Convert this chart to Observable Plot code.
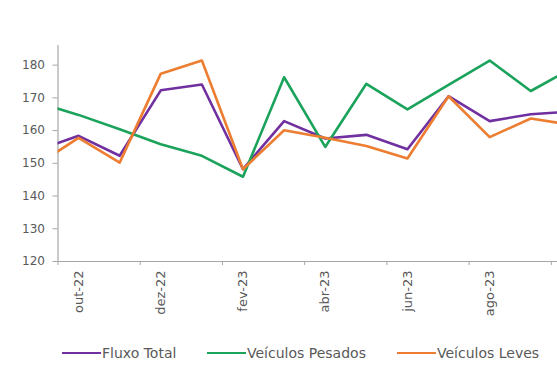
<!DOCTYPE html>
<html>
<head>
<meta charset="utf-8">
<script src="https://cdn.jsdelivr.net/npm/d3@7"></script>
<script src="https://cdn.jsdelivr.net/npm/@observablehq/plot@0.6"></script>
<style>
  body { margin: 0; background: #fff; font-family: "DejaVu Sans", sans-serif; }
  #chart { width: 557px; height: 371px; overflow: hidden; position: relative; background: #fff; }
  #chart svg { display: block; }
  .legend { position: relative; height: 41px; }
  .item { position: absolute; top: 14px; display: flex; align-items: center; font-size: 14px; color: #595959; white-space: nowrap; line-height: 18px; }
  .swatch { display: inline-block; width: 39px; height: 0; border-top: 2.6px solid; margin-right: 1px; }
</style>
</head>
<body>
<div id="chart"></div>
<script>
// Monthly series, set-22 through out-23 (first and last months sit just outside the visible window)
const months = ["set-22", "out-22", "nov-22", "dez-22", "jan-23", "fev-23", "mar-23",
                "abr-23", "mai-23", "jun-23", "jul-23", "ago-23", "set-23", "out-23"];
const tickMonths = ["out-22", "dez-22", "fev-23", "abr-23", "jun-23", "ago-23"];
const yTicks = [120, 130, 140, 150, 160, 170, 180];

const fluxoTotal      = [154.0, 158.4, 152.3, 172.3, 174.1, 148.2, 162.9, 157.6, 158.7, 154.3, 170.5, 162.9, 165.0, 165.8];
const veiculosPesados = [168.6, 164.8, 160.4, 155.8, 152.3, 145.9, 176.3, 155.0, 174.3, 166.5, 174.0, 181.4, 172.1, 179.0];
const veiculosLeves   = [149.6, 157.8, 150.2, 177.4, 181.4, 148.2, 160.1, 157.8, 155.3, 151.5, 170.5, 158.0, 163.7, 161.7];

const seriesNames  = ["Fluxo Total", "Veículos Pesados", "Veículos Leves"];
const seriesValues = [fluxoTotal, veiculosPesados, veiculosLeves];
const seriesColors = ["#7030a0", "#1ba35c", "#ed7d31"];

const rows = seriesNames.flatMap((name, s) =>
  seriesValues[s].map((value, i) => ({ series: name, i, month: months[i], value }))
);

const labelIdx = tickMonths.map(m => months.indexOf(m));
// tick marks fall between month pairs
const boundaries = d3.range(0.5, months.length - 1, 2);

const grey = "#a6a6a6";
const textGrey = "#595959";

const chart = Plot.plot({
  width: 557,
  height: 330,
  marginLeft: 57.5,
  marginRight: 0,
  marginTop: 45,
  marginBottom: 69,
  style: { fontFamily: "DejaVu Sans, sans-serif", color: textGrey, background: "#fff", overflow: "hidden" },
  x: { type: "linear", domain: [0.5, 12.65], axis: null },
  y: { domain: [120, 186], axis: null },
  color: { domain: seriesNames, range: seriesColors },
  marks: [
    Plot.ruleY([120], { stroke: grey, strokeWidth: 1.2 }),
    Plot.ruleX([0.5], { stroke: grey, strokeWidth: 1.2 }),
    Plot.axisY(yTicks, {
      anchor: "left", tickSize: 5, tickPadding: 8, fontSize: 12,
      stroke: grey, fill: textGrey, tickFormat: d => d, label: null
    }),
    Plot.axisX(boundaries, {
      anchor: "bottom", tickSize: 4, stroke: grey, tickFormat: null, text: null, label: null
    }),
    Plot.axisX(labelIdx, {
      anchor: "bottom", tickSize: 0, tickPadding: 9, tickRotate: -90, fontSize: 13,
      fill: textGrey, tickFormat: i => months[i], label: null
    }),
    ...seriesNames.map(name =>
      Plot.line(rows.filter(d => d.series === name), {
        x: "i", y: "value", stroke: "series",
        strokeWidth: 2.6, strokeLinejoin: "round", strokeLinecap: "butt", clip: true
      })
    )
  ]
});

const root = document.getElementById("chart");
root.appendChild(chart);

// Legend below the plot
const legend = document.createElement("div");
legend.className = "legend";
const legendX = [62, 207, 397];
seriesNames.forEach((name, s) => {
  const item = document.createElement("div");
  item.className = "item";
  item.style.left = legendX[s] + "px";
  const sw = document.createElement("span");
  sw.className = "swatch";
  sw.style.borderTopColor = seriesColors[s];
  const label = document.createElement("span");
  label.textContent = name;
  item.appendChild(sw);
  item.appendChild(label);
  legend.appendChild(item);
});
root.appendChild(legend);
</script>
</body>
</html>
